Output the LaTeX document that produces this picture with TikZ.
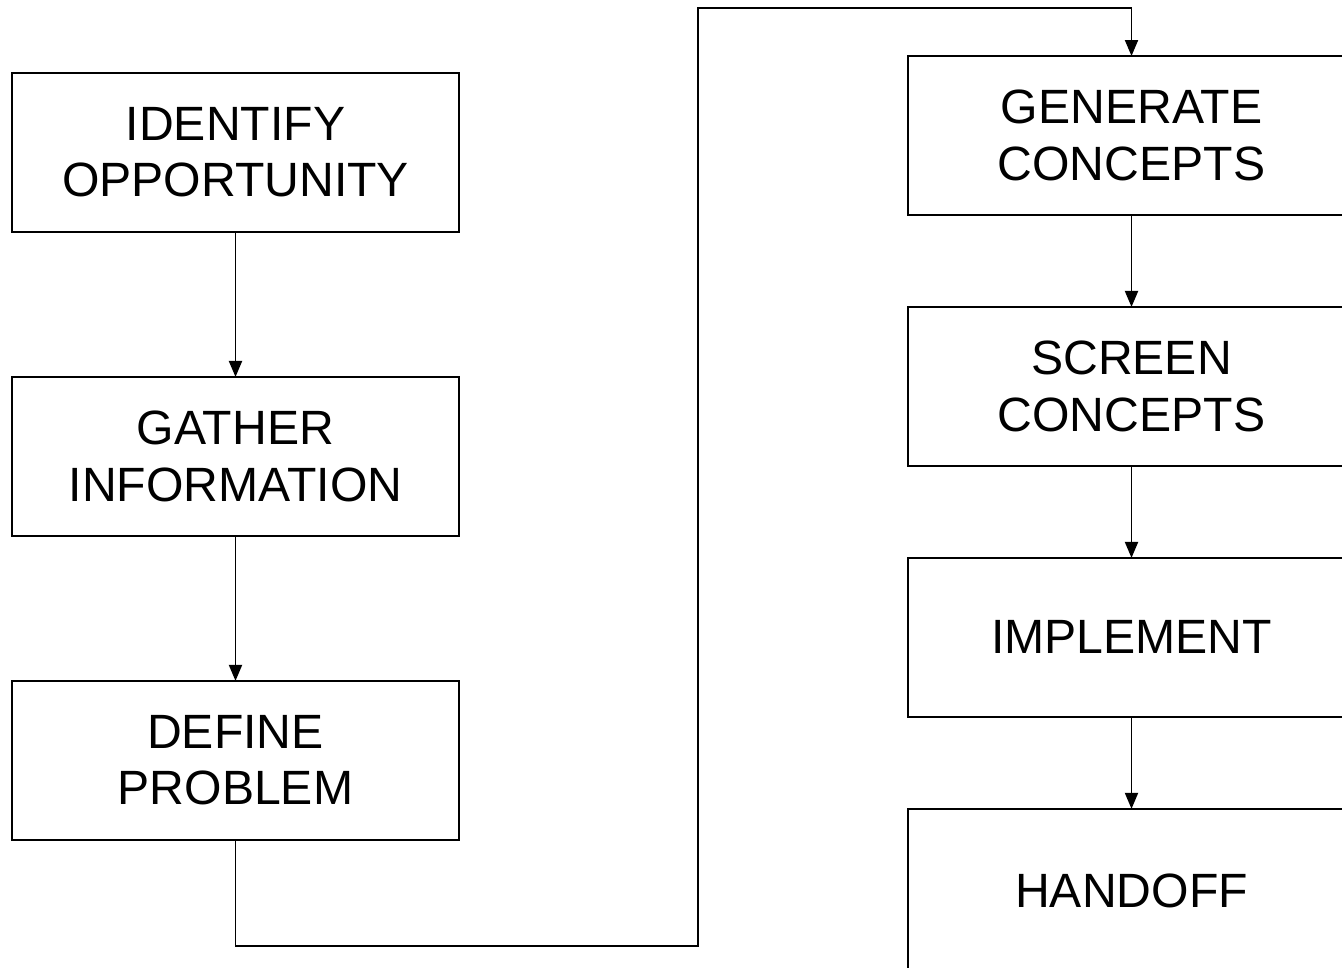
\documentclass[tikz,border=0pt]{standalone}
\usepackage{fontspec}
\setmainfont{Liberation Sans}
\usetikzlibrary{arrows.meta, positioning}

\begin{document}
\begin{tikzpicture}[
        x=0.02cm, y=-0.02cm,
        node distance=2.90cm,
        pbox/.style={rectangle, draw=black, line width=1.1pt, outer sep=0pt, minimum width=8.94cm, minimum height=3.18cm, align=center, inner sep=0pt, font=\fontsize{27.4}{32}\selectfont},
        arr/.style={-{Triangle[length=0.32cm, width=0.26cm]}, line width=1.1pt, black}
      ]
        \useasboundingbox (0,0) rectangle (1342,967);
        \clip (0,0) rectangle (1342,967);

        % left column
        \node[pbox] (ident) at (235.5,152.5) {IDENTIFY\\OPPORTUNITY};
        \node[pbox, below=of ident] (gather) {GATHER\\INFORMATION};
        \node[pbox, below=of gather] (define) {DEFINE\\PROBLEM};

        % right column
        \node[pbox] (gen) at (1131.5,135.5) {GENERATE\\CONCEPTS};
        \node[pbox, below=1.84cm of gen] (screen) {SCREEN\\CONCEPTS};
        \node[pbox, below=1.84cm of screen] (impl) {IMPLEMENT};
        \node[pbox, below=1.84cm of impl, minimum height=3.3cm] (handoff) {HANDOFF};

        \coordinate (lowturn) at (698,946);
        \coordinate (topturn) at (698,8);

        \draw[arr] (ident) -- (gather);
        \draw[arr] (gather) -- (define);
        \draw[arr] (define.south) |- (lowturn) -- (topturn) -| (gen.north);
        \draw[arr] (gen) -- (screen);
        \draw[arr] (screen) -- (impl);
        \draw[arr] (impl) -- (handoff);
      \end{tikzpicture}
\end{document}
